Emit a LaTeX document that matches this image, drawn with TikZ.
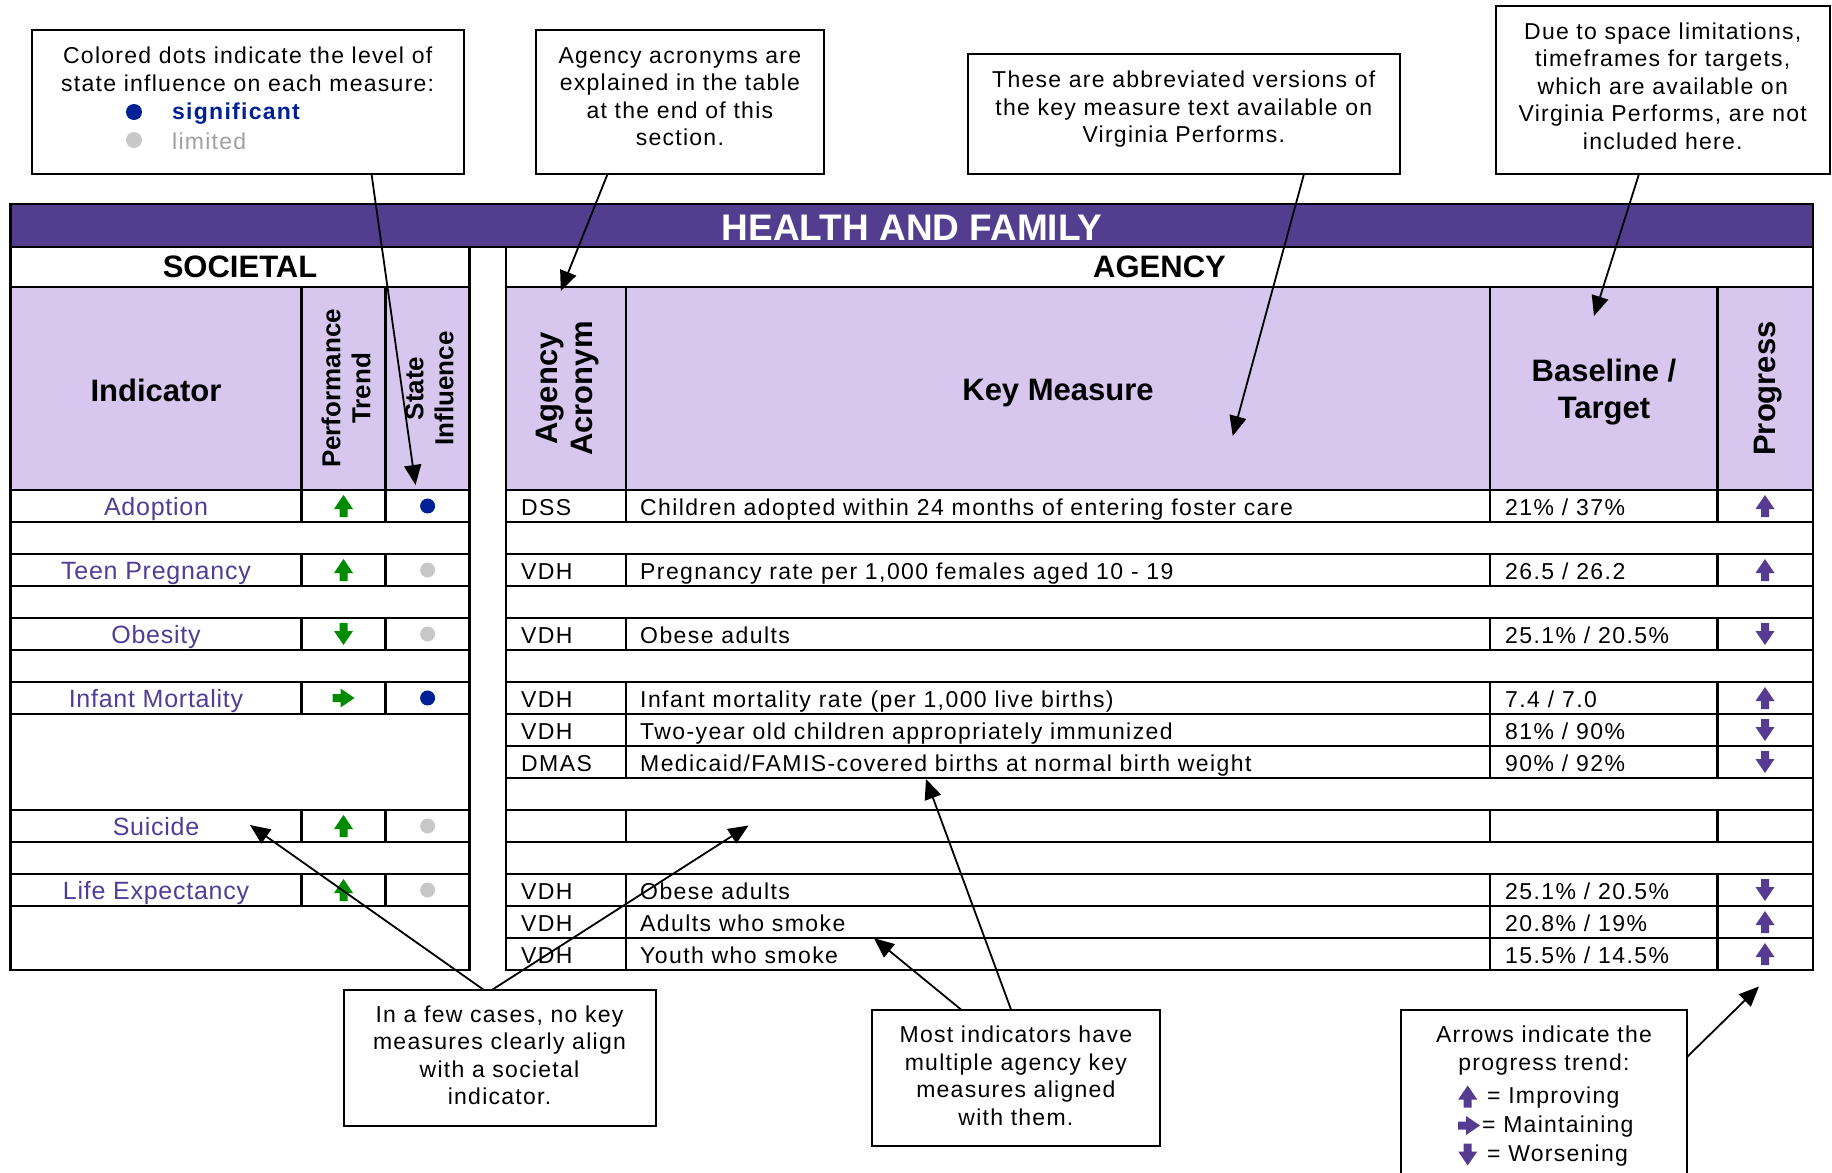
\documentclass[tikz,border=0pt]{standalone}
\usepackage{fontspec}
\setmainfont{Liberation Sans}
\newfontfamily\trk[LetterSpace=5.5]{Liberation Sans}
\newfontfamily\trkcell[LetterSpace=6.2]{Liberation Sans}
\newfontfamily\trkind[LetterSpace=3]{Liberation Sans}
\usetikzlibrary{arrows.meta}
\definecolor{band}{RGB}{83,61,143}
\definecolor{lav}{RGB}{215,199,239}
\definecolor{indp}{RGB}{80,62,150}
\definecolor{grn}{RGB}{0,140,0}
\definecolor{parr}{RGB}{85,60,145}
\definecolor{sigblue}{RGB}{0,32,150}
\definecolor{limgray}{RGB}{200,200,200}
\definecolor{limtext}{RGB}{160,160,160}
\tikzset{
  uarr/.pic={\fill (0,-11) -- (9.5,3) -- (4,3) -- (4,11) -- (-4,11) -- (-4,3) -- (-9.5,3) -- cycle;},
  darr/.pic={\fill (0,11) -- (9.5,-3) -- (4,-3) -- (4,-11) -- (-4,-11) -- (-4,-3) -- (-9.5,-3) -- cycle;},
  rarr/.pic={\fill (11,0) -- (-3,9.5) -- (-3,4) -- (-11,4) -- (-11,-4) -- (-3,-4) -- (-3,-9.5) -- cycle;}
}
\begin{document}
\begin{tikzpicture}[x=1pt,y=-1pt,
  tl/.style={line width=2.6pt},
  callbox/.style={draw, line width=2pt, fill=white, inner sep=0pt},
  boxtext/.style={inner sep=0pt, align=center, font=\trk\fontsize{23}{27.5}\selectfont},
  callout/.style={line width=1.8pt, -{Triangle[length=20pt,width=17pt]}},
  cell/.style={anchor=west, inner sep=0pt, text height=18pt, text depth=0pt, font=\trkcell\fontsize{23}{26}\selectfont},
  ind/.style={inner sep=0pt, text height=19pt, text depth=0pt, font=\trkind\fontsize{25}{28}\selectfont, text=indp},
  hdr/.style={inner sep=0pt, align=center, font=\bfseries\fontsize{31}{37.4}\selectfont},
  rhdr/.style={inner sep=0pt, align=center, rotate=90, font=\bfseries\fontsize{26}{30}\selectfont},
  rhdrb/.style={inner sep=0pt, align=center, rotate=90, font=\bfseries\fontsize{31}{35}\selectfont},
  dotmark/.style={circle, inner sep=0pt, minimum size=15pt},
]
\useasboundingbox (0,0) rectangle (1832,1173);
\clip (0,0) rectangle (1832,1173);
\fill[white] (0,0) rectangle (1832,1173);

% ---------- band and header fills
\fill[band] (10.5,204) rectangle (1813,247);
\fill[lav] (10.5,287) rectangle (469.7,490);
\fill[lav] (506,287) rectangle (1813,490);
\draw[tl] (10.5,204) rectangle (1813,247);

% ---------- societal table lines
\draw[tl] (10.5,247) rectangle (469.7,970);
\foreach \yy in {287,490,522,554,586,618,650,682,714,810,842,874,906}
  \draw[tl] (10.5,\yy) -- (469.7,\yy);
\foreach \xx in {301.5,385.6}
  \foreach \ya/\yb in {287/522,554/586,618/650,682/714,810/842,874/906}
    \draw[tl] (\xx,\ya) -- (\xx,\yb);

% ---------- agency table lines
\draw[tl] (506,247) rectangle (1813,970);
\foreach \yy in {287,490,522,554,586,618,650,682,714,746,778,810,842,874,906,938}
  \draw[tl] (506,\yy) -- (1813,\yy);
\foreach \xx in {626,1490,1717.5}
  \foreach \ya/\yb in {287/522,554/586,618/650,682/778,810/842,874/970}
    \draw[tl] (\xx,\ya) -- (\xx,\yb);

% ---------- headers
\node[inner sep=0pt, text=white, font=\bfseries\fontsize{37}{40}\selectfont] (title) at (912,228) {HEALTH AND FAMILY};
\node[hdr] (soc) at (240,267) {SOCIETAL};
\node[hdr] (agy) at (1159.5,267) {AGENCY};
\node[hdr] (hind) at (156,390) {Indicator};
\node[rhdr] (htrend) at (346,388.5) {Performance\\Trend};
\node[rhdr] (hinfl) at (429.5,388.5) {State\\Influence};
\node[rhdrb] (hacr) at (568,388.5) {Agency\\Acronym};
\node[hdr] (hkey) at (1058,393) {Key Measure};
\node[hdr] (hbase) at (1604,392) {Baseline /\\Target};
\node[rhdrb] (hprog) at (1768,388.5) {Progress};

% ---------- societal rows
\node[ind] (i1) at (156,506) {Adoption};
\node[ind] (i2) at (156,570) {Teen Pregnancy};
\node[ind] (i3) at (156,634) {Obesity};
\node[ind] (i4) at (156,698) {Infant Mortality};
\node[ind] (i5) at (156,826) {Suicide};
\node[ind] (i6) at (156,890) {Life Expectancy};

\pic[color=grn] at (343.5,506) {uarr};
\pic[color=grn] at (343.5,570) {uarr};
\pic[color=grn] at (343.5,634) {darr};
\pic[color=grn] at (343.5,698) {rarr};
\pic[color=grn] at (343.5,826) {uarr};
\pic[color=grn] at (343.5,890) {uarr};

\node[dotmark, fill=sigblue] (d1) at (427.6,506) {};
\node[dotmark, fill=limgray] (d2) at (427.6,570) {};
\node[dotmark, fill=limgray] (d3) at (427.6,634) {};
\node[dotmark, fill=sigblue] (d4) at (427.6,698) {};
\node[dotmark, fill=limgray] (d5) at (427.6,826) {};
\node[dotmark, fill=limgray] (d6) at (427.6,890) {};

% ---------- agency rows
\foreach \n/\yy/\ac/\km/\bt/\pr in {
  1/506/{DSS}/{Children adopted within 24 months of entering foster care}/{21\% / 37\%}/uarr,
  2/570/{VDH}/{Pregnancy rate per 1,000 females aged 10 - 19}/{26.5 / 26.2}/uarr,
  3/634/{VDH}/{Obese adults}/{25.1\% / 20.5\%}/darr,
  4/698/{VDH}/{Infant mortality rate (per 1,000 live births)}/{7.4 / 7.0}/uarr,
  5/730/{VDH}/{Two-year old children appropriately immunized}/{81\% / 90\%}/darr,
  6/762/{DMAS}/{Medicaid/FAMIS-covered births at normal birth weight}/{90\% / 92\%}/darr,
  7/890/{VDH}/{Obese adults}/{25.1\% / 20.5\%}/darr,
  8/922/{VDH}/{Adults who smoke}/{20.8\% / 19\%}/uarr,
  9/954/{VDH}/{Youth who smoke}/{15.5\% / 14.5\%}/uarr}{
  \node[cell] (ac\n) at (521,\yy) {\ac};
  \node[cell] (km\n) at (640,\yy) {\km};
  \node[cell] (bt\n) at (1505,\yy) {\bt};
  \pic[color=parr] at (1765,\yy) {\pr};
}

% ---------- callout boxes
\node[callbox, minimum width=432.4pt, minimum height=143.7pt] (b1) at (247.7,102.2) {};
\node[boxtext] (b1t) at (247.7,69.5) {Colored dots indicate the level of\\state influence on each measure:};
\node[dotmark, minimum size=16pt, fill=sigblue] (b1d1) at (134,112) {};
\node[boxtext, anchor=west, text=sigblue, font=\trk\bfseries\fontsize{23}{27.5}\selectfont] (b1l1) at (172,113.5) {significant};
\node[dotmark, minimum size=16pt, fill=limgray] (b1d2) at (134,140) {};
\node[boxtext, anchor=west, text=limtext] (b1l2) at (172,141) {limited};

\node[callbox, minimum width=287.7pt, minimum height=143.6pt] (b2) at (679.9,102.2) {};
\node[boxtext] (b2t) at (679.9,96.8) {Agency acronyms are\\explained in the table\\at the end of this\\section.};

\node[callbox, minimum width=432.5pt, minimum height=120.3pt] (b3) at (1183.8,113.9) {};
\node[boxtext] (b3t) at (1183.8,109.2) {These are abbreviated versions of\\the key measure text available on\\Virginia Performs.};

\node[callbox, minimum width=334.1pt, minimum height=168.2pt] (b4) at (1662.7,89.9) {};
\node[boxtext] (b4t) at (1662.7,86) {Due to space limitations,\\timeframes for targets,\\which are available on\\Virginia Performs, are not\\included here.};

\node[callbox, minimum width=312pt, minimum height=136.8pt] (b5) at (499.5,1058) {};
\node[boxtext] (b5t) at (499.5,1055.5) {In a few cases, no key\\measures clearly align\\with a societal\\indicator.};

\node[callbox, minimum width=288.6pt, minimum height=136.7pt] (b6) at (1015.9,1077.9) {};
\node[boxtext] (b6t) at (1015.9,1076) {Most indicators have\\multiple agency key\\measures aligned\\with them.};

\node[callbox, minimum width=286pt, minimum height=200pt] (b7) at (1544,1109.5) {};
\node[boxtext] (b7t) at (1544,1050.5) {Arrows indicate the\\progress trend:};
\pic[color=parr] at (1467.7,1096.5) {uarr};
\node[boxtext, anchor=west] (b7l1) at (1487,1097.5) {= Improving};
\pic[color=parr] at (1469,1125.5) {rarr};
\node[boxtext, anchor=west] (b7l2) at (1482,1126.5) {= Maintaining};
\pic[color=parr] at (1467.7,1154.5) {darr};
\node[boxtext, anchor=west] (b7l3) at (1487,1155.5) {= Worsening};

% ---------- callout connectors
\coordinate (s1) at (371.5,174);   \coordinate (t1) at (415.5,485);
\coordinate (s2) at (607.6,174);   \coordinate (t2) at (560.8,291);
\coordinate (s3) at (1304,174);    \coordinate (t3) at (1232.7,436);
\coordinate (s4) at (1639,174);    \coordinate (t4) at (1594,316);
\coordinate (s5a) at (483.4,989.6); \coordinate (t5a) at (250,825);
\coordinate (s5b) at (492.4,989.6); \coordinate (t5b) at (748.5,825.5);
\coordinate (s6a) at (961,1009.5); \coordinate (t6a) at (874,938.2);
\coordinate (s6b) at (1011,1009.5); \coordinate (t6b) at (926,779);
\coordinate (s7) at (1687,1057);   \coordinate (t7) at (1759,986.5);
\foreach \s/\t in {s1/t1,s2/t2,s3/t3,s4/t4,s5a/t5a,s5b/t5b,s6a/t6a,s6b/t6b,s7/t7}
  \draw[callout] (\s) -- (\t);
\end{tikzpicture}
\end{document}
